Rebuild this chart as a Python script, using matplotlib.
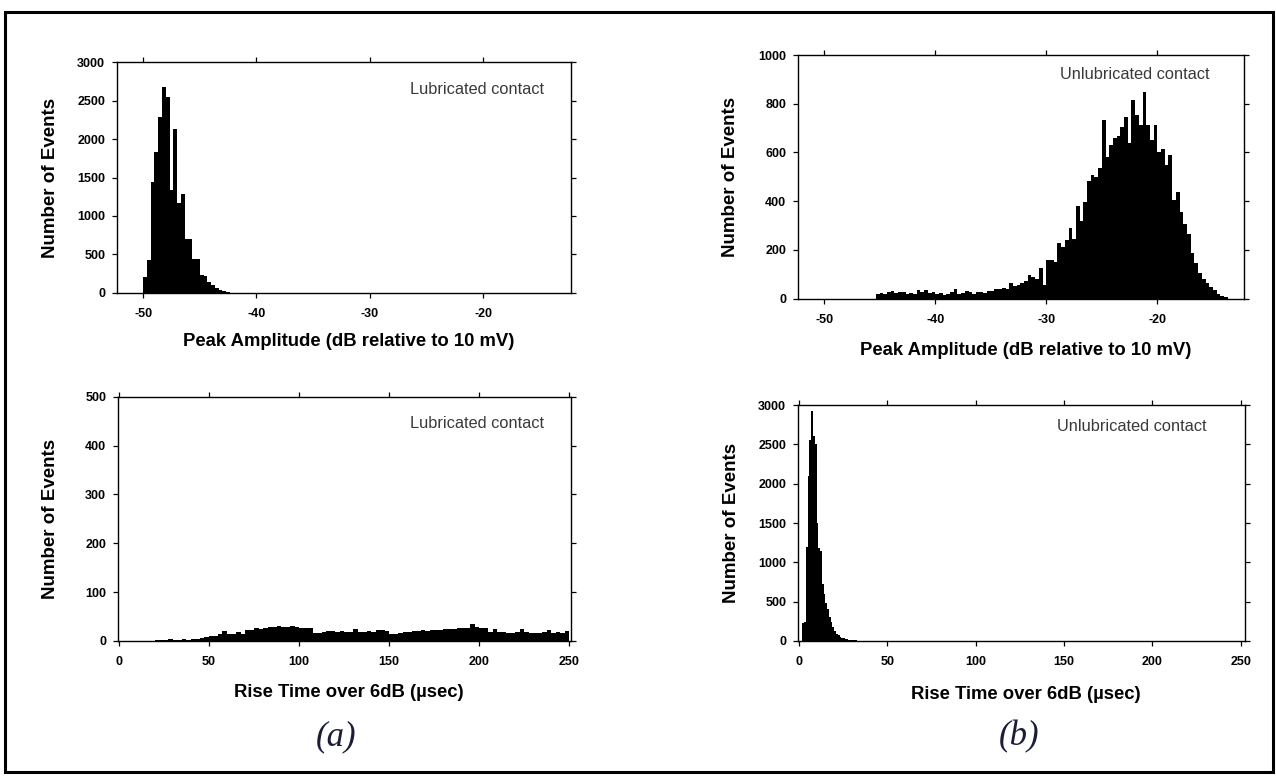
import numpy as np
import matplotlib.pyplot as plt
from matplotlib.patches import Rectangle

plt.rcParams['font.family'] = ['Liberation Sans', 'DejaVu Sans']
plt.rcParams['axes.unicode_minus'] = False

# peak amplitude histograms (1/3 dB bins)
amp_bin = 1 / 3
amp_lub_start = -50.0
amp_lub_counts = [210, 430, 1440, 1830, 2290, 2680, 2550, 1340, 2130, 1170, 1280,
                  700, 700, 440, 440, 240, 220, 140, 110, 70, 40, 25, 12]
amp_unlub_start = -45.33
amp_unlub_counts = [20, 22, 18, 25, 32, 22, 28, 25, 20, 22,
                    18, 35, 25, 33, 22, 25, 18, 22, 16, 20,
                    25, 38, 18, 22, 30, 27, 20, 28, 26, 22,
                    30, 32, 40, 38, 42, 40, 62, 52, 55, 62,
                    72, 95, 88, 80, 125, 55, 157, 160, 150, 230,
                    212, 240, 288, 245, 380, 320, 397, 483, 507, 500,
                    534, 735, 582, 630, 658, 667, 705, 744, 637, 815,
                    753, 712, 847, 712, 650, 712, 603, 616, 548, 589,
                    404, 438, 356, 308, 267, 185, 144, 103, 82, 62,
                    48, 34, 20, 11, 5]

# rise time histograms
rise_lub_bin = 2.5
rise_lub_counts = [0, 0, 0, 0, 0, 0, 1, 1, 2, 2,
                   3, 4, 2, 3, 4, 3, 4, 5, 6, 8,
                   10, 11, 15, 21, 15, 14, 19, 14, 22, 23,
                   26, 25, 27, 28, 29, 30, 28, 29, 30, 28,
                   27, 26, 26, 17, 17, 18, 20, 21, 19, 20,
                   19, 19, 24, 19, 18, 20, 19, 22, 22, 21,
                   15, 14, 16, 19, 18, 20, 21, 22, 21, 23,
                   22, 23, 24, 24, 25, 26, 26, 27, 34, 28,
                   27, 26, 19, 24, 19, 18, 17, 16, 18, 24,
                   18, 16, 17, 16, 18, 22, 17, 18, 16, 21]
rise_unlub_bin = 1.0
rise_unlub_counts = [0, 0, 230, 240, 1200, 2100, 2550, 2930, 2600, 2500,
                     1500, 1180, 1150, 720, 600, 480, 410, 310, 240, 180,
                     130, 95, 70, 55, 42, 33, 26, 20, 15, 12,
                     10, 8, 7, 6, 5, 4, 4, 3, 3, 3,
                     3, 2, 2, 2, 2, 2, 1, 1, 1, 1]

amp_ticks = [-50, -40, -30, -20]
rise_ticks = [0, 50, 100, 150, 200, 250]

amp_label = 'Peak Amplitude (dB relative to 10 mV)'
rise_label = 'Rise Time over 6dB (\u00b5sec)'

fig = plt.figure(figsize=(12.76, 7.78), dpi=100)


def panel(rect, counts, start, width, xlim, ylim, yticks, xticks, xlabel, note,
          note_xy, xlab_y, ylab_x):
    ax = fig.add_axes(rect)
    edges = start + width * np.arange(len(counts) + 1)
    ax.stairs(counts, edges, fill=True, color='black', linewidth=0)
    ax.set_xlim(*xlim)
    ax.set_ylim(*ylim)
    ax.set_xticks(xticks)
    ax.set_yticks(yticks)
    ax.tick_params(direction='out', top=True, right=True, length=3.5, width=0.9,
                   labelsize=9, pad=5)
    ax.tick_params(axis='x', pad=7.5)
    for lab in ax.get_xticklabels() + ax.get_yticklabels():
        lab.set_fontweight('bold')
    for sp in ax.spines.values():
        sp.set_linewidth(1.0)
    ax.set_xlabel(xlabel, fontsize=13.3, fontweight='bold')
    ax.set_ylabel('Number of Events', fontsize=13.5, fontweight='bold')
    ax.xaxis.set_label_coords(0.51, xlab_y)
    ax.yaxis.set_label_coords(ylab_x, 0.5)
    ax.text(note_xy[0], note_xy[1], note, transform=ax.transAxes, ha='right',
            va='center', fontsize=11.8, color='#3a3a3a')
    return ax


panel([0.0917, 0.6234, 0.3558, 0.2969], amp_lub_counts, amp_lub_start, amp_bin,
      (-52.3, -12.25), (0, 3000), range(0, 3001, 500), amp_ticks, amp_label,
      'Lubricated contact', (0.9405, 0.880), -0.172, -0.128)
panel([0.6254, 0.6163, 0.3495, 0.3130], amp_unlub_counts, amp_unlub_start, amp_bin,
      (-52.35, -12.2), (0, 1000), range(0, 1001, 200), amp_ticks, amp_label,
      'Unlubricated contact', (0.9238, 0.918), -0.178, -0.133)
panel([0.0925, 0.1761, 0.3550, 0.3140], rise_lub_counts, 0, rise_lub_bin,
      (-0.5, 251), (0, 500), range(0, 501, 100), rise_ticks, rise_label,
      'Lubricated contact', (0.9405, 0.891), -0.174, -0.130)
panel([0.6254, 0.1761, 0.3503, 0.3033], rise_unlub_counts, 0, rise_unlub_bin,
      (-0.5, 252.5), (0, 3000), range(0, 3001, 500), rise_ticks, rise_label,
      'Unlubricated contact', (0.9128, 0.907), -0.189, -0.129)

W, H = 1276, 778
fig.text(335.8 / W, 1 - 736.7 / H, '(a)', family='Liberation Serif', style='italic',
         fontsize=25, color='#1c1c3a', ha='center', va='center')
fig.text(1019 / W, 1 - 736.7 / H, '(b)', family='Liberation Serif', style='italic',
         fontsize=25, color='#1c1c3a', ha='center', va='center')

fig.add_artist(Rectangle((5 / W, 6 / H), 1268 / W, 760 / H, transform=fig.transFigure,
                         fill=False, edgecolor='black', linewidth=2.2))

fig.savefig('out.png', dpi=100)
